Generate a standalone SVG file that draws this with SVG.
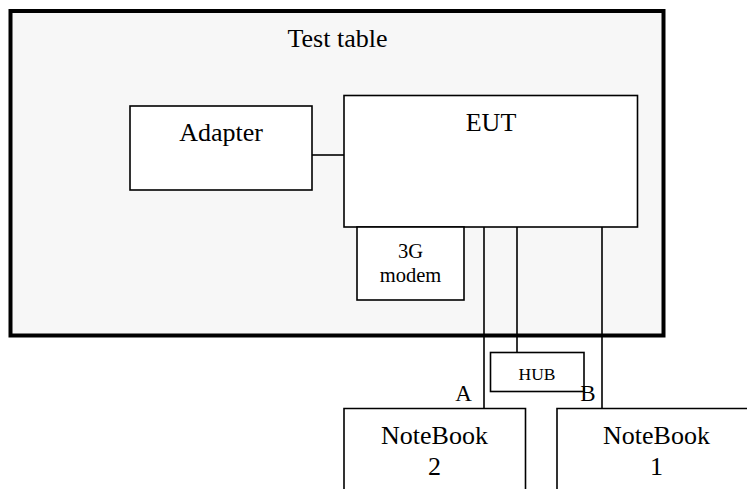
<svg xmlns="http://www.w3.org/2000/svg" width="747" height="489" viewBox="0 0 747 489">
<style>
.box{fill:#ffffff;stroke:#000;stroke-width:1.6}
.ln{stroke:#000;stroke-width:1.6;fill:none}
text{font-family:"Liberation Serif","Times New Roman",serif;fill:#000;text-anchor:middle}
.big{font-size:26px}
.mid{font-size:20.5px}
.sm{font-size:17.5px}
</style>
<rect width="747" height="489" fill="#ffffff"/>
<g id="test-table">
<rect x="10.5" y="11" width="653" height="324.5" fill="#f7f7f7" stroke="#000" stroke-width="4"/>
<text class="big" x="337.5" y="47">Test table</text>
</g>
<g id="connectors">
<line class="ln" x1="312" y1="155" x2="344" y2="155"/>
<line class="ln" x1="484" y1="227" x2="484" y2="408"/>
<line class="ln" x1="517" y1="227" x2="517" y2="352"/>
<line class="ln" x1="602" y1="227" x2="602" y2="408"/>
</g>
<g id="adapter">
<rect class="box" x="130" y="106" width="182" height="84"/>
<text class="big" x="221" y="141">Adapter</text>
</g>
<g id="eut">
<rect class="box" x="344" y="95.5" width="293.5" height="131.5"/>
<text class="big" x="491" y="131">EUT</text>
</g>
<g id="modem">
<rect class="box" x="357" y="227" width="107" height="73"/>
<text class="mid" x="410.5" y="258">3G</text>
<text class="mid" x="410.5" y="282">modem</text>
</g>
<g id="hub">
<rect class="box" x="490.5" y="352.5" width="93.5" height="39"/>
<text class="sm" x="537" y="380">HUB</text>
</g>
<g id="label-a"><text class="big" x="463.5" y="400.5" style="font-size:23px">A</text></g>
<g id="label-b"><text class="big" x="588" y="400.5" style="font-size:23px">B</text></g>
<g id="notebook2">
<path class="ln" d="M344,490 V408.5 H525.5 V490"/>
<text class="big" x="434.5" y="443.5">NoteBook</text>
<text class="big" x="434.5" y="475">2</text>
</g>
<g id="notebook1">
<path class="ln" d="M557,490 V408.5 H760"/>
<text class="big" x="656.5" y="443.5">NoteBook</text>
<text class="big" x="656.5" y="475">1</text>
</g>
</svg>
